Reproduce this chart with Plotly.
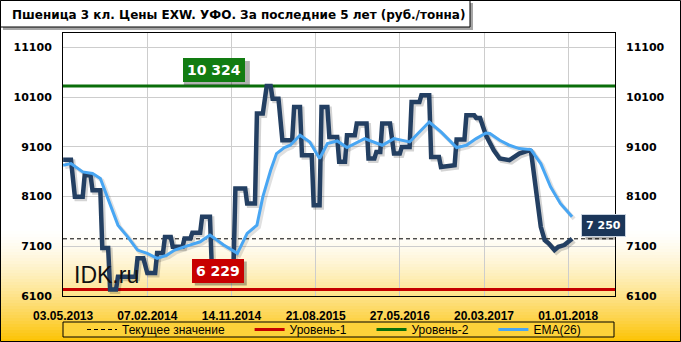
import plotly.graph_objects as go
import pandas as pd

# ---------------- data ----------------
title_text = "Пшеница 3 кл. Цены EXW. УФО. За последние 5 лет (руб./тонна)"
start_date = pd.Timestamp("2013-05-03")
tick_labels = ["03.05.2013", "07.02.2014", "14.11.2014", "21.08.2015",
               "27.05.2016", "20.03.2017", "01.01.2018"]
y_ticks = [6100, 7100, 8100, 9100, 10100, 11100]

# price (weeks after 03.05.2013, value)
price_weeks = [0, 4, 6, 10, 11, 14, 15, 19, 20, 23, 24, 27, 28, 37, 38, 41, 43, 47,
               48, 51, 52, 55, 56, 61, 62, 65, 66, 70, 71, 75, 76, 87, 88, 93, 94, 98,
               99, 102, 104, 106, 107, 110, 112, 117, 118, 121, 122, 127, 128, 131,
               132, 135, 136, 140, 141, 144, 145, 149, 150, 155, 156, 159, 160, 162,
               163, 167, 169, 172, 173, 177, 178, 182, 183, 187, 188, 192, 193, 198,
               200, 201, 205, 206, 210, 211, 213, 216, 220, 223, 228, 233, 238, 239,
               240, 242, 244, 246, 248, 251, 253, 256, 260]
price_vals = [8840, 8840, 8093, 8093, 8528, 8528, 8227, 8227, 7063, 7063, 6229, 6229,
              6487, 6487, 6857, 6857, 6562, 6562, 6963, 6963, 7284, 7284, 7089, 7089,
              7258, 7258, 7370, 7370, 7692, 7692, 6620, 6620, 8262, 8262, 7960, 7960,
              9767, 9767, 10324, 10324, 10068, 10068, 9231, 9231, 9899, 9899, 8930,
              8930, 7926, 7926, 9899, 9899, 9297, 9297, 8800, 8800, 9331, 9331, 9566,
              9566, 8864, 8864, 8996, 8996, 9566, 9566, 8964, 8964, 9096, 9096, 10000,
              10000, 10134, 10134, 8896, 8896, 8695, 8729, 8729, 9245, 9245, 9733,
              9733, 9680, 9680, 9331, 9030, 8864, 8830, 8964, 9030, 9010, 8695, 8093,
              7491, 7224, 7158, 7023, 7089, 7124, 7250]

# EMA(26)
ema_weeks = [0, 4, 10, 15, 19, 21, 25, 28, 33, 38, 43, 48, 53, 57, 63, 70, 75, 82, 89,
             94, 99, 102, 106, 109, 113, 116, 121, 126, 131, 135, 140, 145, 154, 163,
             169, 177, 182, 187, 193, 197, 201, 206, 211, 216, 218, 223, 228, 233, 239,
             244, 249, 254, 260]
ema_vals = [8729, 8763, 8595, 8563, 8462, 8262, 7826, 7525, 7290, 7023, 6957, 6857,
            6923, 7023, 7104, 7190, 7324, 7124, 6957, 7358, 7525, 8093, 8629, 8964,
            9084, 9131, 9331, 9197, 8864, 9165, 9217, 9084, 9265, 9131, 9265, 9197,
            9398, 9598, 9398, 9231, 9084, 9131, 9265, 9378, 9366, 9231, 9131, 9064,
            9044, 8763, 8294, 7960, 7692]

current_value = 7250
level_1 = 6229
level_2 = 10324
legend_names = ["Текущее значение", "Уровень-1", "Уровень-2", "EMA(26)"]

# ---------------- layout geometry ----------------
W, H = 681, 342
L, R, T, B = 63, 615, 33, 296  # plot frame in pixels
def px(xp):
    return (xp - L) / (R - L)
def py(yp):
    return (B - yp) / (B - T)

px_per_week = 1.958
week = pd.Timedelta(weeks=1)
def wdate(w):
    return start_date + w * week

x_end = start_date + pd.Timedelta(days=(R - L) / px_per_week * 7)
x_range = [start_date - pd.Timedelta(hours=12), x_end]
y_range = [6100, 11387.6]
# 2px offset ranges for the drop shadows
x_shift = (x_range[1] - x_range[0]) * (2 / (R - L))
y_shift = (y_range[1] - y_range[0]) * (2 / (B - T))
x_range_sh = [x_range[0] - x_shift, x_range[1] - x_shift]
y_range_sh = [y_range[0] + y_shift, y_range[1] + y_shift]

price_x = [wdate(w) for w in price_weeks]
ema_x = [wdate(w) for w in ema_weeks]
full_x = [x_range[0], x_range[1]]

pad = "\u00a0" * 6
fig = go.Figure()
fig.add_trace(go.Scatter(x=full_x, y=[current_value, current_value], mode="lines",
                         name=legend_names[0] + pad, legendrank=1,
                         line=dict(color="black", width=1, dash="4px,3px"), yaxis="y2"))
fig.add_trace(go.Scatter(x=full_x, y=[level_1, level_1], mode="lines",
                         name=legend_names[1] + pad, legendrank=2,
                         line=dict(color="#c40000", width=3)))
fig.add_trace(go.Scatter(x=full_x, y=[level_2, level_2], mode="lines",
                         name=legend_names[2] + pad, legendrank=3,
                         line=dict(color="#0a6e0a", width=3)))
# drop shadows
fig.add_trace(go.Scatter(x=price_x, y=price_vals, mode="lines", showlegend=False,
                         hoverinfo="skip", xaxis="x3", yaxis="y3",
                         line=dict(color="rgba(0,0,0,0.17)", width=5)))
fig.add_trace(go.Scatter(x=ema_x, y=ema_vals, mode="lines", showlegend=False,
                         hoverinfo="skip", xaxis="x3", yaxis="y3",
                         line=dict(color="rgba(0,0,0,0.12)", width=4)))
# main series
fig.add_trace(go.Scatter(x=price_x, y=price_vals, mode="lines", showlegend=False,
                         xaxis="x4", yaxis="y4",
                         line=dict(color="#233f62", width=4.5)))
fig.add_trace(go.Scatter(x=ema_x, y=ema_vals, mode="lines", name=legend_names[3],
                         legendrank=4, xaxis="x4", yaxis="y4",
                         line=dict(color="#48a6f3", width=3)))

shapes = []
# background gradient (white -> yellow towards the bottom)
y0g, y1g = 228, 342
n = 38
for i in range(n):
    a = y0g + (y1g - y0g) * i / n
    b = y0g + (y1g - y0g) * (i + 1) / n
    t = ((a + b) / 2 - y0g) / (y1g - y0g)
    t = t ** 1.5
    r = round(255 - t * 3)
    g = round(255 - t * 61)
    bl = round(255 - t * 255)
    shapes.append(dict(type="rect", xref="paper", yref="paper", x0=px(0), x1=px(W),
                       y0=py(b + 0.5), y1=py(a), fillcolor=f"rgb({r},{g},{bl})",
                       line=dict(width=0), layer="below"))
# legend box
shapes.append(dict(type="rect", xref="paper", yref="paper", x0=px(63), x1=px(614),
                   y0=py(337), y1=py(322), fillcolor="#fdd23a",
                   line=dict(color="black", width=1), layer="below"))
# outer frame
shapes.append(dict(type="rect", xref="paper", yref="paper", x0=px(0.5), x1=px(680.5),
                   y0=py(341.5), y1=py(0.5), line=dict(color="black", width=1),
                   fillcolor="rgba(0,0,0,0)"))
# title box
shapes.append(dict(type="rect", xref="paper", yref="paper", x0=px(3), x1=px(473),
                   y0=py(30), y1=py(3), fillcolor="rgba(0,0,0,0.35)", line=dict(width=0)))
shapes.append(dict(type="rect", xref="paper", yref="paper", x0=px(0.5), x1=px(470),
                   y0=py(27), y1=py(0.5), fillcolor="white",
                   line=dict(color="black", width=1)))

def fmt(v):
    return f"{v:,}".replace(",", " ")

annotations = [
    dict(text=title_text, xref="paper", yref="paper", x=px(10), y=py(14.5),
         xanchor="left", yanchor="middle", showarrow=False,
         font=dict(family="DejaVu Sans", size=12, color="black", weight="bold")),
    dict(text="IDK.ru", xref="paper", yref="paper", x=px(72), y=py(275),
         xanchor="left", yanchor="middle", showarrow=False,
         font=dict(family="Liberation Sans", size=23, color="#111111")),
]
boxes = [(level_2, 77, 4, "#127c12", 14, None, 66, 24),
         (level_1, 79, 7, "#c80000", 14, None, 52, 24),
         (current_value, 276, 2, "#1b3659", 11, "#c9d3df", 42, 21)]
for (val, wk, ysh, bg, fs, bc, bw, bh) in boxes:
    shapes.append(dict(type="rect", xref="x", yref="y", xsizemode="pixel",
                       ysizemode="pixel", xanchor=wdate(wk), yanchor=val,
                       x0=-bw / 2 + 3, x1=bw / 2 + 3, y0=ysh - 3, y1=ysh - 3 + bh,
                       fillcolor="rgba(0,0,0,0.3)", line=dict(width=0)))
    annotations.append(dict(text="<b>" + fmt(val) + "</b>", x=wdate(wk), y=val, xref="x",
                            yref="y", xanchor="center", yanchor="bottom", yshift=ysh,
                            showarrow=False, bgcolor=bg, borderpad=4,
                            bordercolor=bc if bc else bg, borderwidth=1 if bc else 0,
                            font=dict(family="DejaVu Sans", size=fs, color="white")))

grid_col = "#cdcdcd"
tick_font = dict(family="DejaVu Sans", size=11, color="black", weight="bold")
fig.update_layout(
    template="none",
    width=W, height=H,
    margin=dict(l=L, r=W - R, t=T, b=H - B, pad=0, autoexpand=False),
    paper_bgcolor="white", plot_bgcolor="rgba(0,0,0,0)",
    showlegend=True,
    legend=dict(orientation="h", xref="container", yref="container",
                x=82 / W, xanchor="left", y=1 - 329.5 / H, yanchor="middle",
                bgcolor="rgba(0,0,0,0)", borderwidth=0, traceorder="normal",
                font=dict(family="Liberation Sans", size=12, color="black"),
                itemwidth=30),
    xaxis=dict(type="date", range=x_range, zeroline=False, automargin=False,
               tickmode="array", tickvals=[wdate(43 * k) for k in range(len(tick_labels))],
               ticktext=tick_labels, ticks="", ticklabelstandoff=9,
               tickfont=dict(family="Liberation Sans", size=12, color="black",
                             weight="bold"),
               showgrid=True, gridcolor=grid_col, gridwidth=1,
               showline=True, linecolor="black", linewidth=1, mirror=True),
    yaxis=dict(range=y_range, tickmode="array", tickvals=y_ticks,
               ticktext=[str(v) for v in y_ticks], automargin=False,
               showgrid=True, gridcolor=grid_col, gridwidth=1,
               zeroline=False, ticks="", tickfont=tick_font, ticklabelstandoff=8,
               showline=True, linecolor="black", linewidth=1, mirror=True),
    yaxis2=dict(range=y_range, overlaying="y", side="right", tickmode="array",
                tickvals=y_ticks, ticktext=[str(v) for v in y_ticks], automargin=False,
                showgrid=False, zeroline=False, ticks="", ticklabelstandoff=10,
                tickfont=tick_font, showline=False),
    xaxis3=dict(type="date", range=x_range_sh, overlaying="x", visible=False),
    yaxis3=dict(range=y_range_sh, overlaying="y", visible=False),
    xaxis4=dict(type="date", range=x_range, overlaying="x", visible=False),
    yaxis4=dict(range=y_range, overlaying="y", visible=False),
    shapes=shapes,
    annotations=annotations,
)
fig.write_html("out.html")
